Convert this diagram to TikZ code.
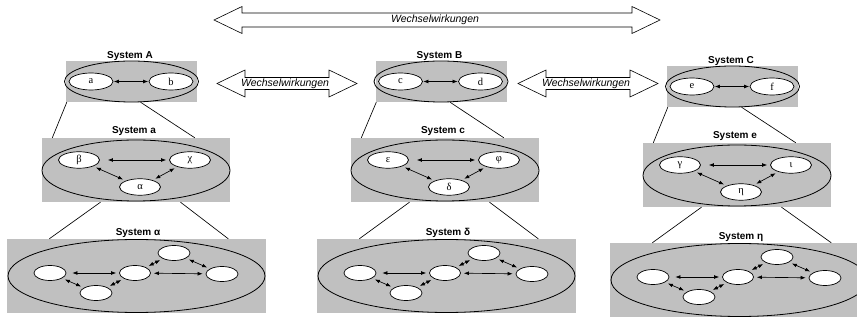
\documentclass[tikz,border=0pt]{standalone}
\usepackage{fontspec}
\setmainfont{Liberation Serif}
\setsansfont{Liberation Sans}
\usetikzlibrary{shapes.geometric,arrows.meta,calc}

\definecolor{panelgray}{RGB}{192,192,192}

\tikzset{
  panel/.style={fill=panelgray, draw=none, inner sep=0pt},
  ring/.style={ellipse, draw, line width=0.8pt, inner sep=0pt},
  elem/.style={ellipse, draw, fill=white, line width=0.7pt, inner sep=0pt,
    font=\fontsize{10.5}{10.5}\selectfont},
  systitle/.style={font=\sffamily\bfseries\fontsize{10}{10}\selectfont,
    inner sep=0pt, anchor=base},
  link/.style={line width=0.65pt,
    {Latex[length=5pt,width=3.8pt]}-{Latex[length=5pt,width=3.8pt]},
    shorten <=3pt, shorten >=3pt},
  tie/.style={line width=0.65pt},
  wwshape/.style={draw, fill=white, line width=0.6pt},
  wwtext/.style={font=\sffamily\itshape\fontsize{10.5}{10.5}\selectfont,
    inner sep=0pt},
}

% system with two elements (upper row)
\newcommand\toplevel[6]{%
  \begin{scope}[shift={(#2,#3)}]
    \node[panel, minimum width=131pt, minimum height=41pt] (#1panel) at (0,0) {};
    \node[ring, minimum width=134pt, minimum height=41pt] (#1ring) at (0,0) {};
    \node[elem, minimum width=44pt, minimum height=17pt] (#1l) at (-40.5,0) {#5};
    \node[elem, minimum width=44pt, minimum height=17pt] (#1r) at (39.5,0) {#6};
    \node[systitle] (#1title) at (-1.5,-23) {#4};
    \draw[link, shorten <=0.5pt, shorten >=0.5pt] (#1l) -- (#1r);
  \end{scope}}

% system with three elements (middle row)
\newcommand\midlevel[7]{%
  \begin{scope}[shift={(#2,#3)}]
    \node[panel, minimum width=188pt, minimum height=64pt] (#1panel) at (0,0) {};
    \node[ring, minimum width=188pt, minimum height=61pt] (#1ring) at (0,0.5) {};
    \node[elem, minimum width=41pt, minimum height=16.5pt] (#1l) at (-57,-10) {#5};
    \node[elem, minimum width=41pt, minimum height=16.5pt] (#1r) at (54,-10) {#6};
    \node[elem, minimum width=41pt, minimum height=16.5pt] (#1b) at (4,17) {#7};
    \node[systitle] (#1title) at (-2,-36.5) {#4};
    \draw[link, shorten <=8pt] (#1l) -- (#1r);
    \draw[link] (#1l) -- (#1b);
    \draw[link] (#1b) -- (#1r);
  \end{scope}}

% system with five unnamed elements (lower row)
\newcommand\lowlevel[4]{%
  \begin{scope}[shift={(#2,#3)}]
    \node[panel, minimum width=259pt, minimum height=74pt] (#1panel) at (0,0) {};
    \node[ring, minimum width=257pt, minimum height=73pt] (#1ring) at (0,0) {};
    \node[elem, minimum width=32pt, minimum height=15pt] (#1a) at (-86.5,-3) {};
    \node[elem, minimum width=32pt, minimum height=15pt] (#1b) at (-40.5,17) {};
    \node[elem, minimum width=31pt, minimum height=15pt] (#1c) at (-1.5,-3) {};
    \node[elem, minimum width=32pt, minimum height=15pt] (#1d) at (37.5,-23) {};
    \node[elem, minimum width=32pt, minimum height=15pt] (#1e) at (85.5,-2) {};
    \node[systitle] (#1title) at (1.5,-40) {#4};
    \draw[link, shorten <=6pt] (#1a) -- (#1c);
    \draw[link] (#1c) -- (#1e);
    \draw[link] (#1a) -- (#1b);
    \draw[link] (#1b) -- (#1c);
    \draw[link] (#1c) -- (#1d);
    \draw[link] (#1d) -- (#1e);
  \end{scope}}

% block arrow carrying the word "Wechselwirkungen"
\newcommand\wwarrow[5]{% name, x, y, half length, shaft half width
  \begin{scope}[shift={(#2,#3)}]
    \draw[wwshape] (-#4,0) -- ({-#4+28},-13.5) -- ({-#4+28},-#5)
      -- ({#4-28},-#5) -- ({#4-28},-13.5) -- (#4,0) -- ({#4-28},13.5)
      -- ({#4-28},#5) -- ({-#4+28},#5) -- ({-#4+28},13.5) -- cycle;
    \node[wwtext] (#1) at (-2,0) {Wechselwirkungen};
  \end{scope}}

\begin{document}
\begin{tikzpicture}[x=1pt, y=-1pt]
  \useasboundingbox (0,0) rectangle (857,320);

  % interaction arrows
  \wwarrow{wwAC}{437}{20}{223}{7}
  \wwarrow{wwAB}{287}{83.5}{70}{6}
  \wwarrow{wwBC}{588}{83.5}{70}{6}

  % upper row
  \toplevel{A}{131.5}{81.5}{System A}{a}{b}
  \toplevel{B}{441}{81.5}{System B}{c}{d}
  \toplevel{C}{732.5}{86.5}{System C}{e}{f}

  % middle row
  \midlevel{sa}{136}{170}{System a}{β}{χ}{α}
  \midlevel{sc}{445}{170}{System c}{ε}{φ}{δ}
  \midlevel{se}{737}{175}{System e}{γ}{ι}{η}

  % lower row
  \lowlevel{sal}{136.5}{276}{System α}
  \lowlevel{sdl}{446.5}{276}{System δ}
  \lowlevel{sel}{739.5}{280}{System η}

  % lines from each system down to its refinement
  \foreach \u/\m in {A/sa, B/sc, C/se}{
    \draw[tie] ($(\u panel.south west)+(1,0)$) -- ($(\m panel.north west)+(10.5,0)$);
    \draw[tie] ($(\u panel.south)+(9,0)$) -- ($(\m panel.north west)+(153,0)$);
  }
  \foreach \m/\l in {sa/sal, sc/sdl, se/sel}{
    \draw[tie] ($(\m panel.south)+(-35.5,0)$) -- ($(\l panel.north west)+(42.5,0)$);
    \draw[tie] ($(\m panel.south)+(44.5,0)$) -- ($(\l panel.north west)+(221.5,0)$);
  }
\end{tikzpicture}
\end{document}
